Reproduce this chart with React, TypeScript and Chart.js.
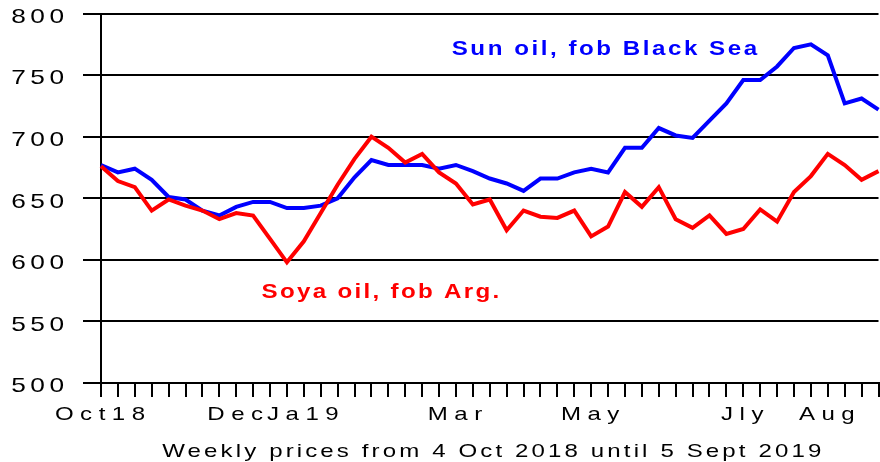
import React, { useEffect, useRef } from "react";
import { Chart, registerables } from "chart.js";

Chart.register(...registerables);

// Weekly observations, 4 Oct 2018 – 5 Sept 2019 (47 weekly points)
const tickLabels: string[] = [
  "Oct18", "", "", "", "", "", "", "", "Dec", "", "", "", "Ja19", "", "", "", "", "", "", "", "",
  "Mar", "", "", "", "", "", "", "", "May", "", "", "", "", "", "", "", "", "Jly", "", "", "", "",
  "Aug", "", "", "",
];

const sunOil: number[] = [
  677, 671, 674, 665, 651, 649, 640, 636, 643, 647,
  647, 642, 642, 644, 650, 667, 681, 677, 677, 677,
  674, 677, 672, 666, 662, 656, 666, 666, 671, 674,
  671, 691, 691, 707, 701, 699, 713, 727, 746, 746,
  757, 772, 775, 766, 727, 731, 722,
];

const soyaOil: number[] = [
  676, 664, 659, 640, 649, 644, 640, 633, 638, 636,
  617, 598, 615, 638, 661, 682, 700, 691, 679, 686,
  671, 662, 645, 649, 624, 640, 635, 634, 640, 619,
  627, 655, 643, 659, 633, 626, 636, 621, 625, 641,
  631, 655, 668, 686, 677, 665, 672,
];

const sunName = "Sun oil, fob Black Sea";
const soyaName = "Soya oil, fob Arg.";
const axisTitle = "Weekly prices from 4 Oct 2018 until 5 Sept 2019";

// label anchors in data space: [category index, price]
const sunLabelAt: [number, number] = [20.75, 766];
const soyaLabelAt: [number, number] = [9.5, 569];

const FONT = '"Liberation Sans", Arial, sans-serif';

// the source chart's lettering is widened and spaced out: draw with a horizontal scale k
// and letter spacing sp (unscaled px); compensates the trailing spacing for alignment
function wideText(
  ctx: CanvasRenderingContext2D,
  text: string,
  x: number,
  y: number,
  k: number,
  sp: number,
  align: CanvasTextAlign
) {
  ctx.save();
  const shift = align === "center" ? (sp * k) / 2 : align === "right" ? sp * k : 0;
  ctx.translate(x + shift, y);
  ctx.scale(k, 1);
  (ctx as any).letterSpacing = `${sp}px`;
  ctx.textAlign = align;
  ctx.textBaseline = "alphabetic";
  ctx.fillText(text, 0, 0);
  ctx.restore();
}

const textPlugin = {
  id: "textPlugin",
  afterDraw(chart: any) {
    const { ctx, chartArea, scales } = chart;
    const xs = scales.x;
    const ys = scales.y;
    ctx.save();
    ctx.fillStyle = "#000";

    // y tick labels
    ctx.font = `21px ${FONT}`;
    ys.ticks.forEach((t: any) => {
      const py = ys.getPixelForValue(t.value);
      wideText(ctx, String(t.value), ys.right - 18 - 19, py + 9.3, 1.25, 3.6, "right");
    });

    // x tick labels
    ctx.font = `18.5px ${FONT}`;
    xs.ticks.forEach((t: any, i: number) => {
      const label = tickLabels[t.value];
      if (!label) return;
      wideText(ctx, label, xs.getPixelForTick(i) - 1, chartArea.bottom + 37, 1.3, 5, "center");
    });

    // axis title
    wideText(ctx, axisTitle, (chartArea.left + chartArea.right) / 2 + 2, chartArea.bottom + 73.7, 1.3, 2.4, "center");

    // series labels
    ctx.font = `bold 21px ${FONT}`;
    ctx.fillStyle = "#0000FF";
    wideText(ctx, sunName, xs.getPixelForValue(sunLabelAt[0]), ys.getPixelForValue(sunLabelAt[1]), 1.15, 2.2, "left");
    ctx.fillStyle = "#FF0000";
    wideText(ctx, soyaName, xs.getPixelForValue(soyaLabelAt[0]), ys.getPixelForValue(soyaLabelAt[1]), 1.15, 2.0, "left");
    ctx.restore();
  },
};

export default function App() {
  const ref = useRef<HTMLCanvasElement | null>(null);

  useEffect(() => {
    if (!ref.current) return;
    const chart = new Chart(ref.current, {
      type: "line",
      data: {
        labels: tickLabels,
        datasets: [
          {
            label: soyaName,
            data: soyaOil,
            borderColor: "#FF0000",
            backgroundColor: "#FF0000",
            borderWidth: 4,
            pointRadius: 0,
            tension: 0,
          },
          {
            label: sunName,
            data: sunOil,
            borderColor: "#0000FF",
            backgroundColor: "#0000FF",
            borderWidth: 4,
            pointRadius: 0,
            tension: 0,
          },
        ],
      },
      options: {
        animation: false,
        responsive: true,
        maintainAspectRatio: false,
        layout: { padding: { top: 13.5, right: 1.5, left: 0, bottom: 0 } },
        plugins: { legend: { display: false }, tooltip: { enabled: false } },
        events: [],
        scales: {
          x: {
            type: "category",
            offset: false,
            afterFit: (s: any) => {
              s.height = 79;
              s.paddingLeft = 0;
              s.paddingRight = 0;
            },
            grid: {
              display: true,
              drawOnChartArea: false,
              drawTicks: true,
              tickLength: 14,
              color: "#000",
              lineWidth: 2,
            },
            border: { display: true, color: "#000", width: 2 },
            ticks: { display: false, autoSkip: false, maxRotation: 0, minRotation: 0 },
          },
          y: {
            min: 500,
            max: 800,
            afterFit: (s: any) => {
              s.width = 101;
              s.paddingTop = 0;
              s.paddingBottom = 0;
            },
            grid: {
              color: "#000",
              lineWidth: 2,
              drawTicks: true,
              tickLength: 18,
            },
            border: { display: true, color: "#000", width: 2 },
            ticks: { display: false, stepSize: 50 },
          },
        },
      },
      plugins: [textPlugin],
    });
    return () => chart.destroy();
  }, []);

  return (
    <div style={{ position: "absolute", left: 0, top: 0, width: 880, height: 462, background: "#fff" }}>
      <canvas ref={ref} />
    </div>
  );
}
